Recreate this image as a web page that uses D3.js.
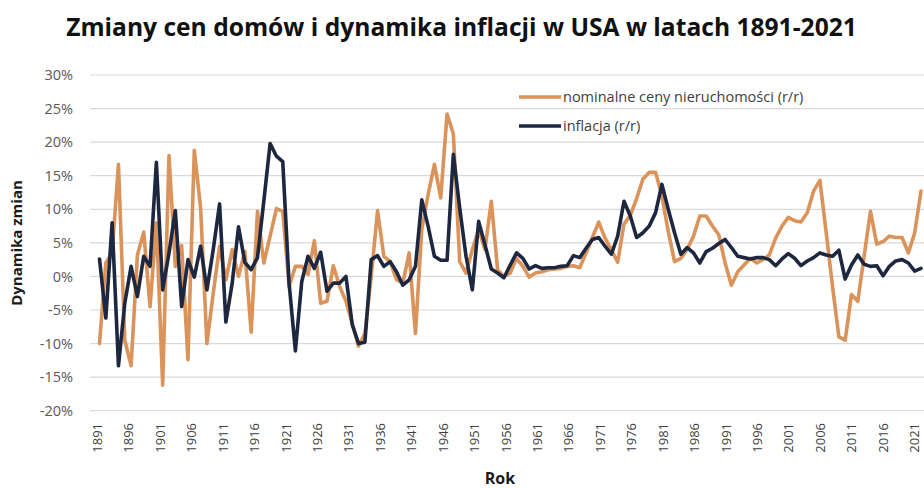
<!DOCTYPE html>
<html>
<head>
<meta charset="utf-8">
<script src="https://cdn.jsdelivr.net/npm/d3@7/dist/d3.min.js"></script>
<style>
  body { margin: 0; background: #fff; }
  text { font-family: "Open Sans", "Liberation Sans", sans-serif; }
</style>
</head>
<body>
<svg id="chart" width="924" height="488"></svg>
<script>
// Years on the category axis
const firstYear = 1891;
const lastYear = 2021;
const years = d3.range(firstYear, lastYear + 1);

// Nominal house prices, year-over-year change (%)
const housePrices = [
  -10.0, 2.0, 3.5, 16.7, -9.5, -13.3, 3.2, 6.6, -4.5, 8.0,
  -16.2, 18.0, 1.5, 4.6, -12.4, 18.8, 10.2, -10.0, -2.5, 4.5,
  -0.5, 4.0, 0.0, 3.7, -8.3, 9.7, 2.0, 6.0, 10.1, 9.7,
  -1.5, 1.5, 1.5, 0.3, 5.3, -4.0, -3.7, 1.6, -1.5, -3.7,
  -7.0, -10.4, -8.5, 0.0, 9.8, 3.0, 2.2, -0.5, -1.0, 3.5,
  -8.5, 7.0, 12.2, 16.7, 11.7, 24.2, 21.2, 2.2, 0.5, 4.0,
  7.0, 4.0, 11.2, 1.0, 0.0, 0.5, 2.7, 1.5, -0.1, 0.5,
  0.7, 1.0, 1.1, 1.2, 1.5, 1.6, 1.3, 3.5, 5.8, 8.1,
  5.7, 4.0, 2.1, 7.8, 9.1, 11.6, 14.5, 15.5, 15.5, 12.0,
  6.7, 2.2, 2.7, 4.0, 6.0, 9.0, 9.0, 7.5, 6.2, 2.0,
  -1.3, 0.7, 1.7, 2.7, 2.0, 2.5, 3.2, 5.7, 7.5, 8.8,
  8.3, 8.1, 9.5, 12.7, 14.3, 6.5, -1.5, -9.0, -9.5, -2.7,
  -3.7, 3.0, 9.7, 4.8, 5.2, 6.0, 5.8, 5.8, 3.5, 6.5,
  12.7
];

// Consumer price inflation, year-over-year (%)
const inflation = [
  2.6, -6.2, 8.0, -13.3, -4.0, 1.5, -3.0, 3.0, 1.5, 17.0,
  -2.0, 3.5, 9.8, -4.5, 2.5, -0.1, 4.5, -2.0, 4.0, 10.8,
  -6.8, -1.0, 7.4, 2.1, 1.0, 2.8, 11.2, 19.8, 17.9, 17.1,
  -1.0, -11.1, -0.8, 3.0, 1.2, 3.6, -2.2, -1.0, -1.0, 0.0,
  -7.2, -10.0, -9.8, 2.5, 3.1, 1.5, 2.2, 0.7, -1.3, -0.5,
  1.5, 11.4, 7.5, 3.0, 2.4, 2.4, 18.2, 10.2, 3.0, -2.0,
  8.2, 4.7, 1.1, 0.5, -0.2, 1.7, 3.5, 2.7, 1.1, 1.6,
  1.2, 1.3, 1.3, 1.5, 1.6, 3.1, 2.8, 4.2, 5.5, 5.8,
  4.5, 3.3, 6.0, 11.2, 9.0, 5.8, 6.5, 7.5, 9.5, 13.7,
  10.0, 6.5, 3.3, 4.3, 3.5, 2.0, 3.7, 4.2, 4.9, 5.5,
  4.3, 3.0, 2.8, 2.6, 2.8, 2.8, 2.5, 1.6, 2.6, 3.4,
  2.7, 1.6, 2.3, 2.8, 3.5, 3.2, 3.0, 3.9, -0.4, 1.7,
  3.2, 1.8, 1.5, 1.6, 0.1, 1.5, 2.3, 2.5, 2.0, 0.8,
  1.2
];

// Value axis ticks (%)
const yTickValues = [-20, -15, -10, -5, 0, 5, 10, 15, 20, 25, 30];
// Every fifth year gets a label
const xTickYears = years.filter((yr, i) => i % 5 === 0);

const seriesNames = ["nominalne ceny nieruchomości (r/r)", "inflacja (r/r)"];
const seriesColors = ["#da935a", "#1d2740"];

const svg = d3.select("#chart");

// Points of the two lines
const x = d3.scalePoint().domain(years).range([99.5, 921]);
// Year labels run on a slightly tighter band so the last one stays inside
const xLabels = d3.scalePoint().domain(years).range([97, 914]);
const y = d3.scaleLinear().domain([-20, 30]).range([410.7, 75]);

// Title
svg.append("text")
  .attr("x", 461.5).attr("y", 36)
  .attr("text-anchor", "middle")
  .attr("font-size", 24.6).attr("font-weight", 700)
  .attr("fill", "#111111")
  .text("Zmiany cen domów i dynamika inflacji w USA w latach 1891-2021");

// Horizontal gridlines
svg.append("g")
  .selectAll("line")
  .data(yTickValues)
  .join("line")
  .attr("x1", 90).attr("x2", 924)
  .attr("y1", d => y(d)).attr("y2", d => y(d))
  .attr("stroke", "#d9d9d9").attr("stroke-width", 1.2);

// Value axis labels
const yAxis = d3.axisLeft(y)
  .tickValues(yTickValues)
  .tickFormat(d => d + "%")
  .tickSize(0)
  .tickPadding(0);
svg.append("g")
  .attr("transform", "translate(73,0)")
  .call(yAxis)
  .call(g => g.select(".domain").remove())
  .call(g => g.selectAll("text")
    .attr("font-size", 14.5)
    .attr("fill", "#595959")
    .attr("font-family", '"Open Sans", sans-serif'));

// Category axis labels, rotated
const xAxis = d3.axisBottom(xLabels)
  .tickValues(xTickYears)
  .tickSize(0)
  .tickPadding(0);
svg.append("g")
  .attr("transform", "translate(0,420)")
  .call(xAxis)
  .call(g => g.select(".domain").remove())
  .call(g => g.selectAll("text")
    .attr("font-size", 13)
    .attr("fill", "#404040")
    .attr("font-family", '"DejaVu Sans", sans-serif')
    .attr("text-anchor", "end")
    .attr("dy", "0.35em")
    .attr("transform", "rotate(-90) translate(-3,0)")
    .attr("x", 0).attr("y", 0));

// Axis titles
svg.append("text")
  .attr("transform", "translate(22,243) rotate(-90)")
  .attr("text-anchor", "middle")
  .attr("font-size", 15).attr("font-weight", 700)
  .attr("fill", "#1a1a1a")
  .text("Dynamika zmian");

svg.append("text")
  .attr("x", 500).attr("y", 484)
  .attr("text-anchor", "middle")
  .attr("font-size", 16).attr("font-weight", 700)
  .attr("fill", "#1a1a1a")
  .text("Rok");

// Data lines
const line = d3.line()
  .x((d, i) => x(years[i]))
  .y(d => y(d));

[housePrices, inflation].forEach((values, k) => {
  svg.append("path")
    .datum(values)
    .attr("fill", "none")
    .attr("stroke", seriesColors[k])
    .attr("stroke-width", 3.6)
    .attr("stroke-linejoin", "round")
    .attr("stroke-linecap", "round")
    .attr("d", line);
});

// Legend
const legend = svg.append("g");
seriesNames.forEach((name, k) => {
  const ly = 97 + k * 29;
  legend.append("line")
    .attr("x1", 519).attr("x2", 561)
    .attr("y1", ly).attr("y2", ly)
    .attr("stroke", seriesColors[k]).attr("stroke-width", 3.6);
  legend.append("text")
    .attr("x", 563).attr("y", ly + 5)
    .attr("font-size", 14.5)
    .attr("fill", "#404040")
    .text(name);
});
</script>
</body>
</html>
